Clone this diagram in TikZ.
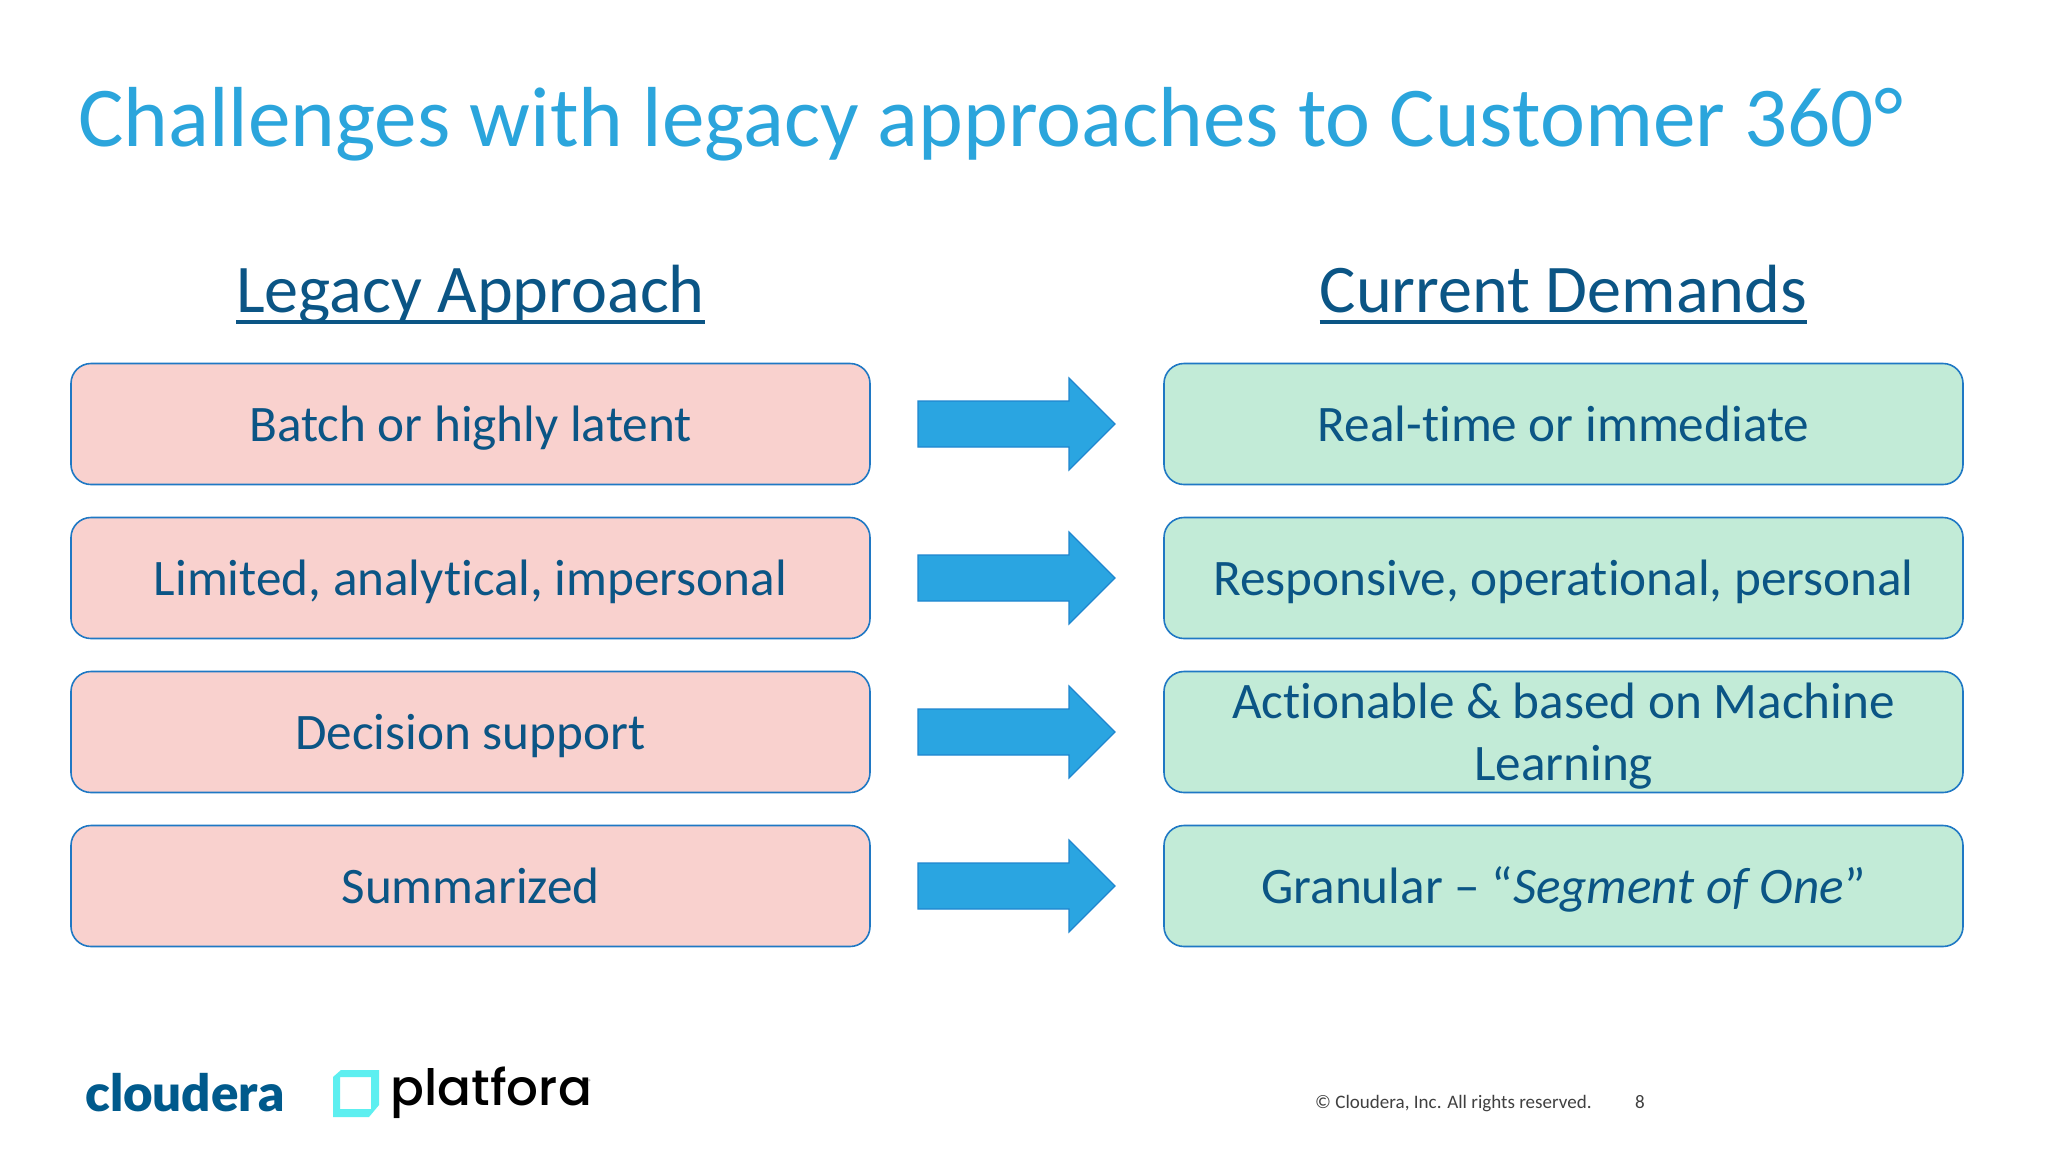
\documentclass[tikz,border=0pt]{standalone}
\usepackage{fontspec}
\setmainfont[Ligatures=NoCommon]{Carlito}
\newfontfamily\logoa{Lato}[UprightFont=*-Black]
\newfontfamily\logob{Poppins}[UprightFont=* Medium]
\definecolor{titleblue}{HTML}{2BA5DC}
\definecolor{navy}{HTML}{0B5585}
\definecolor{edge}{HTML}{1F78C4}
\definecolor{pinkfill}{HTML}{F9D1CE}
\definecolor{greenfill}{HTML}{C2EBD7}
\definecolor{arrowfill}{HTML}{2AA5E1}
\definecolor{arrowline}{HTML}{1F86CF}
\definecolor{logoblue}{HTML}{005A8C}
\definecolor{logocyan}{HTML}{5DEFF0}
\newcommand{\st}{\rule[-14pt]{0pt}{63pt}}
\newcommand{\stb}{\rule[-11.8pt]{0pt}{58.6pt}}
\newcommand{\thickul}[1]{\setbox0\hbox{#1}\rlap{\rule[-11.5pt]{\wd0}{4pt}}\box0}
\lineskiplimit=-100pt
\lineskip=0pt
\tikzset{
  x=1pt,y=-1pt,
  box/.style={draw=edge,line width=1.6pt,rounded corners=20pt,minimum width=799pt,minimum height=121pt,inner sep=0pt,text=navy,font=\fontsize{51.2}{62}\selectfont,align=center},
  legacy/.style={box,fill=pinkfill},
  demand/.style={box,fill=greenfill},
  head/.style={text=navy,font=\fontsize{68.2}{76}\selectfont,inner sep=0pt},
  blockarrow/.style={fill=arrowfill,draw=arrowline,line width=1.2pt,line join=miter},
}
\newcommand{\rowarrow}[1]{\draw[blockarrow] (918,#1-23) -- (1069,#1-23) -- (1069,#1-46) -- (1115,#1) -- (1069,#1+46) -- (1069,#1+23) -- (918,#1+23) -- cycle;}
\begin{document}
\begin{tikzpicture}
\useasboundingbox[fill=white] (0,0) rectangle (2048,1152);
\node[anchor=base west,inner sep=0pt,text=titleblue,font=\fontsize{85.2}{96}\selectfont] (title) at (78,146) {Challenges with legacy approaches to Customer 360°};
\node[head,anchor=base] (hl) at (470.5,312.5) {\thickul{Legacy Approach}};
\node[head,anchor=base] (hr) at (1563.5,312.5) {\thickul{Current Demands}};
\node[legacy] (l1) at (470.5,424) {\st Batch or highly latent};
\node[legacy] (l2) at (470.5,578) {\st Limited, analytical, impersonal};
\node[legacy] (l3) at (470.5,732) {\st Decision support};
\node[legacy] (l4) at (470.5,886) {\st Summarized};
\node[demand] (r1) at (1563.5,424) {\st Real-time or immediate};
\node[demand] (r2) at (1563.5,578) {\st Responsive, operational, personal};
\node[demand] (r3) at (1563.5,732) {\stb Actionable \& based on Machine\\\stb Learning};
\node[demand] (r4) at (1563.5,886) {\st Granular – “\textit{Segment of One}”};
\rowarrow{424}\rowarrow{578}\rowarrow{732}\rowarrow{886}
\node[anchor=base west,inner sep=0pt,text=logoblue,font=\logoa\fontsize{51}{51}\selectfont] (cl) at (85,1111) {cloudera};
\fill[logocyan,even odd rule] (341,1070) -- (379,1070) -- (379,1105) -- (369,1117) -- (333,1117) -- (333,1077) -- cycle
  (340,1077) -- (340,1109) -- (371,1109) -- (371,1077) -- cycle;
\node[anchor=base west,inner sep=0pt,text=black,font=\logob\fontsize{50}{50}\selectfont] (pl) at (390.5,1105) {platfora};
\node[anchor=center,inner sep=0pt,text=black!60,font=\fontsize{7}{7}\selectfont] (reg) at (590,1082) {®};
\node[anchor=base west,inner sep=0pt,text=black!75,font=\fontsize{19.05}{22}\selectfont] (copy) at (1315,1108) {© Cloudera, Inc. All rights reserved.};
\node[anchor=base west,inner sep=0pt,text=black!75,font=\fontsize{19.05}{22}\selectfont] (num) at (1635,1108) {8};
\end{tikzpicture}
\end{document}
